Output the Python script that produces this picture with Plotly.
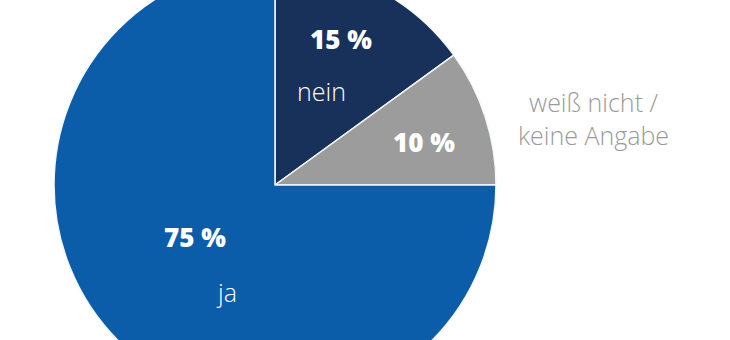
import plotly.graph_objects as go

# ---- data ----
categories = ["nein", "weiß nicht /<br>keine Angabe", "ja"]
values = [15, 10, 75]
pct_labels = ["15 %", "10 %", "75 %"]
colors = ["#17315a", "#9c9c9c", "#0b5ca9"]

# ---- geometry (pixels in the 730x340 view) ----
W, H = 730, 340
cx, cy, R = 275, 185.5, 221
fig_h = 2 * R
shift = R - cy  # pie top lies above the visible area

def px(x):
    return x / W

def py(y):
    return 1 - (y + shift) / fig_h

fig = go.Figure(go.Pie(
    labels=categories,
    values=values,
    sort=False,
    direction="clockwise",
    rotation=0,
    textinfo="none",
    hoverinfo="label+percent",
    marker=dict(colors=colors, line=dict(color="#f4f8fc", width=1.5)),
    domain=dict(x=[px(cx - R), px(cx + R)], y=[0, 1]),
    showlegend=False,
))

bold = dict(family="Open Sans", size=26, color="white", weight=800)
light_w = dict(family="Open Sans", size=25, color="white", weight=300)
light_g = dict(family="Open Sans", size=25, color="#9a9a9a", weight=300)

# label positions (pixels)
pct_pos = [(341, 39), (424, 142), (195, 237)]
name_pos = [(321, 92), (593, 119), (226, 292)]
name_fonts = [light_w, light_g, light_w]

annotations = []
for (x, y), t in zip(pct_pos, pct_labels):
    annotations.append(dict(x=px(x), y=py(y), xref="paper", yref="paper",
                            text=t, showarrow=False, font=bold,
                            xanchor="center", yanchor="middle"))
for (x, y), t, f in zip(name_pos, categories, name_fonts):
    annotations.append(dict(x=px(x), y=py(y), xref="paper", yref="paper",
                            text=t, showarrow=False, font=f, align="center",
                            xanchor="center", yanchor="middle"))

fig.update_layout(
    width=W, height=fig_h,
    margin=dict(l=0, r=0, t=0, b=0),
    paper_bgcolor="white", plot_bgcolor="white",
    annotations=annotations,
)

post = ("document.body.style.margin='0';document.body.style.overflow='hidden';"
        "var d=document.getElementById('{plot_id}');d.style.marginTop='-%dpx';" % round(shift))
fig.write_html("out.html", post_script=post)
